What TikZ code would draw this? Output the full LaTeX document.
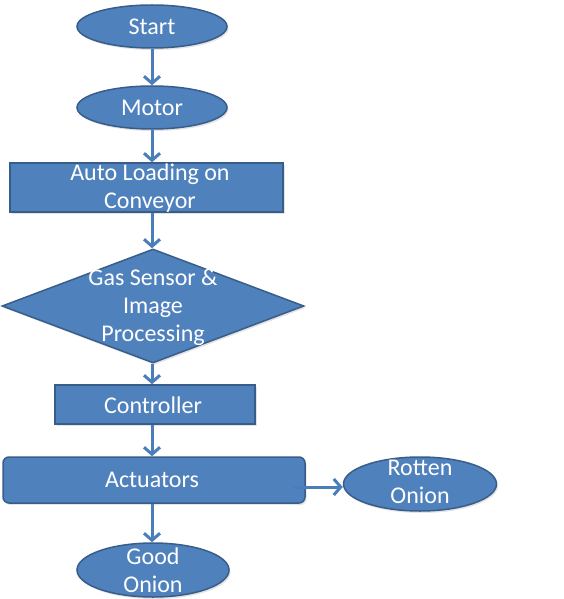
\documentclass[tikz,border=0pt]{standalone}
\usepackage{fontspec}
\setmainfont{Carlito}
\usetikzlibrary{shapes.geometric,arrows.meta,shadows}
\definecolor{boxfill}{HTML}{4F81BD}
\definecolor{boxline}{HTML}{385D8A}
\definecolor{arrowc}{HTML}{4A7EBB}
\begin{document}
\begin{tikzpicture}[x=1pt,y=-1pt,
  shapebase/.style={fill=boxfill,draw=boxline,line width=1.5pt,inner sep=0pt,
    drop shadow={opacity=0.22,shadow xshift=1.5pt,shadow yshift=-2pt}},
  oval/.style={shapebase,ellipse},
  boxnode/.style={shapebase,rectangle},
  roundbox/.style={shapebase,rectangle,rounded corners=6pt},
  decide/.style={shapebase,diamond},
  txt/.style={text=white,font=\fontsize{24}{28}\selectfont,align=center,inner sep=0pt},
  flow/.style={draw=arrowc,line width=3pt,-{Straight Barb[length=7pt,width=16pt]}}]
\useasboundingbox (0,0) rectangle (563,599);

\node[oval,minimum width=150pt,minimum height=43pt] (start) at (152,26.5) {};
\node[txt] (starttxt) at (152,27) {Start};

\node[oval,minimum width=150pt,minimum height=43pt] (motor) at (152,107.5) {};
\node[txt] (motortxt) at (152,108) {Motor};

\node[boxnode,minimum width=273pt,minimum height=49pt] (load) at (146.5,187.5) {};
\node[txt] (loadtxt) at (150,188) {Auto Loading on\\Conveyor};

\node[decide,minimum width=302pt,minimum height=114pt] (sense) at (153,306) {};
\node[txt] (sensetxt) at (153,307) {Gas Sensor \&\\Image\\Processing};

\node[boxnode,minimum width=200pt,minimum height=39pt] (ctrl) at (155,404.5) {};
\node[txt] (ctrltxt) at (153,405) {Controller};

\node[roundbox,minimum width=302pt,minimum height=46pt] (act) at (154,480) {};
\node[txt] (acttxt) at (152,480) {Actuators};

\node[oval,minimum width=153pt,minimum height=54pt] (rotten) at (420,484) {};
\node[txt] (rottentxt) at (420,482) {Rotten\\Onion};

\node[oval,minimum width=152pt,minimum height=54pt] (good) at (153,570) {};
\node[txt] (goodtxt) at (153,570) {Good\\Onion};

\coordinate (actout) at (293,487);

\draw[flow] (start.south) -- (motor.north);
\draw[flow] (motor.south) -- (motor.south |- load.north);
\draw[flow] (motor.south |- load.south) -- (motor.south |- sense.north);
\draw[flow] (motor.south |- sense.south) -- (motor.south |- ctrl.north);
\draw[flow] (motor.south |- ctrl.south) -- (motor.south |- act.north);
\draw[flow] (motor.south |- act.south) -- (motor.south |- good.north);
\draw[flow] (actout) -- (actout -| rotten.west);
\end{tikzpicture}
\end{document}
